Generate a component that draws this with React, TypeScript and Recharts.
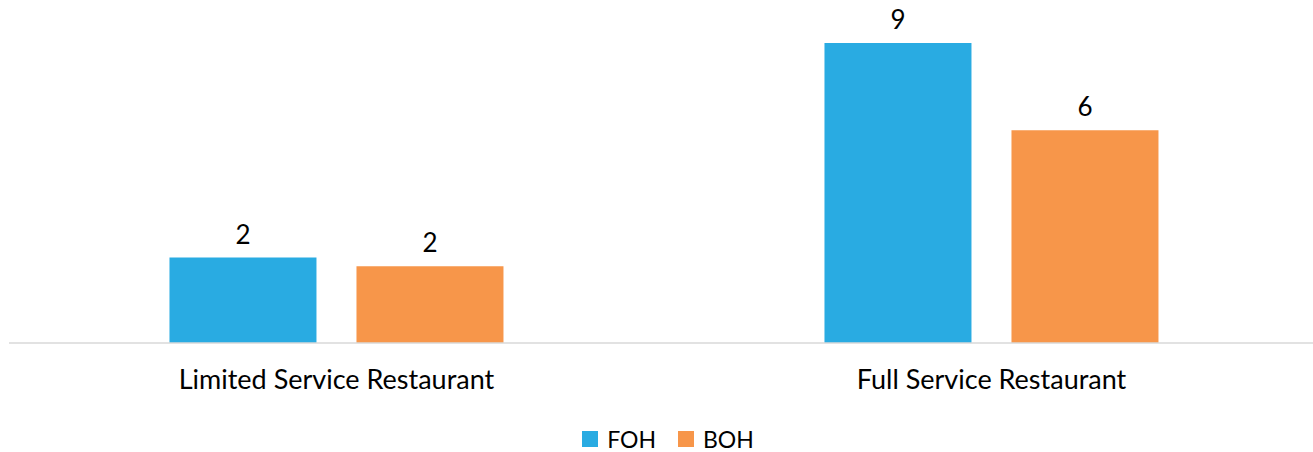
import React from 'react';
import { BarChart, Bar, XAxis, YAxis, Legend, LabelList } from 'recharts';

const categories = ['Limited Service Restaurant', 'Full Service Restaurant'];
const fohValues = [2.45, 8.6];
const bohValues = [2.2, 6.1];

const seriesColors = { FOH: '#29abe2', BOH: '#f7964a' };
const FONT = 'Lato, "Open Sans", sans-serif';

const data = categories.map((name, i) => ({
  name,
  FOH: fohValues[i],
  BOH: bohValues[i],
}));

const roundLabel = (v: any) => Math.round(Number(v)).toString();

const LegendContent = () => (
  <div
    style={{
      height: 39,
      display: 'flex',
      justifyContent: 'center',
      alignItems: 'flex-end',
      paddingLeft: 8,
      paddingBottom: 4,
      boxSizing: 'border-box',
      fontFamily: FONT,
      fontSize: 23,
      lineHeight: '18px',
      color: '#000',
    }}
  >
    {(['FOH', 'BOH'] as const).map((k) => (
      <div key={k} style={{ display: 'flex', alignItems: 'center', margin: '0 11px' }}>
        <div style={{ width: 16, height: 16, background: seriesColors[k], marginRight: 9 }} />
        <span>{k}</span>
      </div>
    ))}
  </div>
);

export default function App() {
  return (
    <div
      style={{
        position: 'absolute',
        left: 0,
        top: 0,
        width: 1313,
        height: 452,
        overflow: 'hidden',
        background: '#fff',
      }}
    >
      <BarChart
        width={1319}
        height={452}
        data={data}
        margin={{ top: 8, right: 0, left: 9, bottom: 0 }}
        barCategoryGap="24.5%"
        barGap={40}
      >
        <XAxis
          dataKey="name"
          axisLine={{ stroke: '#d9d9d9', strokeWidth: 1.5 }}
          tickLine={false}
          height={70}
          tick={{ fontSize: 27, fill: '#000', fontFamily: FONT, dy: 19 }}
        />
        <YAxis hide domain={[0, 9.6]} />
        <Legend verticalAlign="bottom" height={39} content={<LegendContent />} />
        <Bar dataKey="FOH" fill={seriesColors.FOH} isAnimationActive={false}>
          <LabelList
            dataKey="FOH"
            position="top"
            offset={14}
            formatter={roundLabel}
            style={{ fontSize: 26, fill: '#000', fontFamily: FONT }}
          />
        </Bar>
        <Bar dataKey="BOH" fill={seriesColors.BOH} isAnimationActive={false}>
          <LabelList
            dataKey="BOH"
            position="top"
            offset={14}
            formatter={roundLabel}
            style={{ fontSize: 26, fill: '#000', fontFamily: FONT }}
          />
        </Bar>
      </BarChart>
    </div>
  );
}
